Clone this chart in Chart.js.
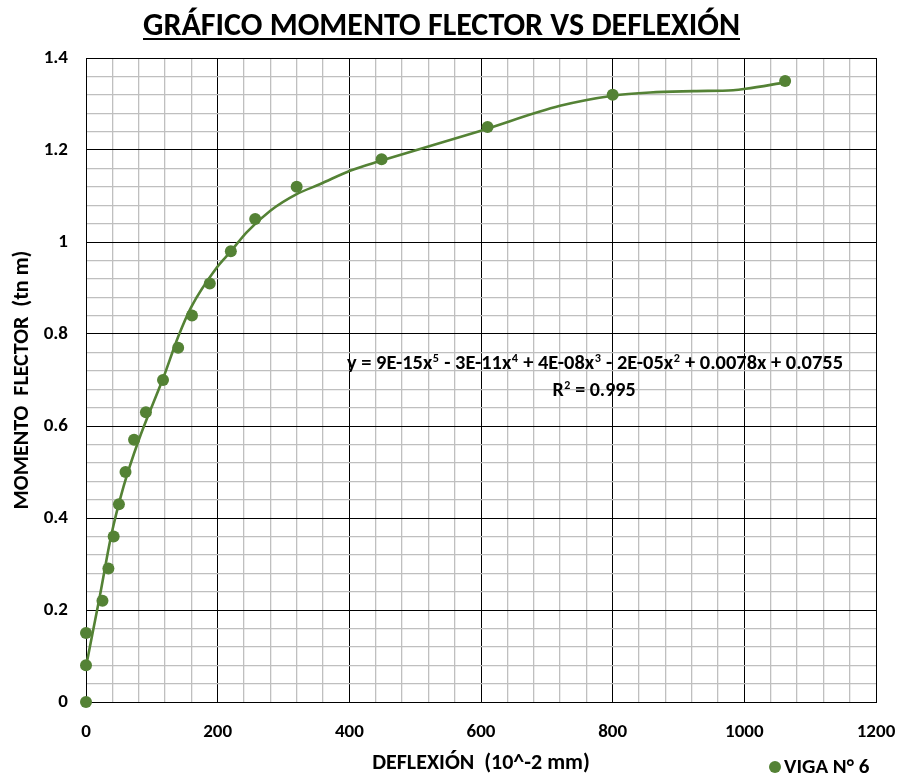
<!DOCTYPE html>
<html><head><meta charset="utf-8">
<script src="https://cdn.jsdelivr.net/npm/chart.js@4"></script>
<style>html,body{margin:0;padding:0;background:#fff}#wrap{width:915px;height:778px}</style>
</head><body><div id="wrap"><canvas id="c" width="915" height="778"></canvas></div>
<script>
// Measured points (VIGA N° 6)
const deflexion = [0, 0, 0, 25, 34, 42, 50, 60, 73, 91, 117, 140, 161, 188, 220, 257, 320, 449, 610, 800, 1062];
const momento   = [0, 0.08, 0.15, 0.22, 0.29, 0.36, 0.43, 0.50, 0.57, 0.63, 0.70, 0.77, 0.84, 0.91, 0.98, 1.05, 1.12, 1.18, 1.25, 1.32, 1.35];
// Polynomial trend line
const trendX = [0, 10, 21, 38, 57, 80, 118, 140, 160, 199, 219, 244, 280, 320, 356, 401, 449, 600, 720, 800, 857, 923, 983, 1002, 1062];
const trendY = [0.077, 0.15, 0.23, 0.36, 0.468, 0.569, 0.707, 0.794, 0.859, 0.945, 0.978, 1.021, 1.068, 1.104, 1.126, 1.155, 1.177, 1.242, 1.296, 1.318, 1.325, 1.328, 1.330, 1.333, 1.347];
const xTickLabels = [0, 200, 400, 600, 800, 1000, 1200];
const yTickLabels = [0, 0.2, 0.4, 0.6, 0.8, 1, 1.2, 1.4];

const titleText = 'GRÁFICO MOMENTO FLECTOR VS DEFLEXIÓN';
const xTitle = 'DEFLEXIÓN  (10^-2 mm)';
const yTitle = 'MOMENTO  FLECTOR  (tn m)';
const seriesName = 'VIGA N° 6';
const eqParts = [['y = 9E-15x', '5'], [' - 3E-11x', '4'], [' + 4E-08x', '3'], [' - 2E-05x', '2'], [' + 0.0078x + 0.0755', '']];
const r2Parts = [['R', '2'], [' = 0.995', '']];

const FONT = 'Carlito, Calibri, Lato, sans-serif';
const GREEN = '#548235';

const isMajor = (v, step) => Math.abs(v / step - Math.round(v / step)) < 1e-6;

function drawParts(ctx, parts, cx, baseline, size, targetW) {
  const supFont = `bold ${Math.round(size * 0.62)}px ${FONT}`;
  let w = 0;
  for (const [t, s] of parts) {
    ctx.font = `bold ${size}px ${FONT}`; w += ctx.measureText(t).width;
    if (s) { ctx.font = supFont; w += ctx.measureText(s).width + 1; }
  }
  const sx = targetW ? targetW / w : 1;
  ctx.save();
  ctx.translate(cx - (w * sx) / 2, baseline);
  ctx.scale(sx, 1);
  let x = 0;
  ctx.fillStyle = '#000';
  ctx.textAlign = 'left'; ctx.textBaseline = 'alphabetic';
  for (const [t, s] of parts) {
    ctx.font = `bold ${size}px ${FONT}`;
    ctx.fillText(t, x, 0); x += ctx.measureText(t).width;
    if (s) { ctx.font = supFont; ctx.fillText(s, x + 0.5, -size * 0.36); x += ctx.measureText(s).width + 1; }
  }
  ctx.restore();
}

const decor = {
  id: 'decor',
  afterDraw(chart) {
    const ctx = chart.ctx;
    // Title
    ctx.save();
    ctx.font = `bold 32px ${FONT}`;
    const tw = ctx.measureText(titleText).width;
    const target = 597, sx = target / tw;
    ctx.translate(441.5 - (tw * sx) / 2, 35);
    ctx.scale(sx, 1);
    ctx.fillStyle = '#000'; ctx.textBaseline = 'alphabetic';
    ctx.fillText(titleText, 0, 0);
    ctx.restore();
    ctx.fillStyle = '#000';
    ctx.fillRect(441.5 - 298.5, 38, 597, 2);
    // Trend equation
    drawParts(ctx, eqParts, 595, 369, 20, 496);
    drawParts(ctx, r2Parts, 594, 396, 20, 0);
    // Legend
    ctx.save();
    ctx.fillStyle = GREEN;
    ctx.beginPath(); ctx.arc(775, 767, 6, 0, Math.PI * 2); ctx.fill();
    ctx.fillStyle = '#000';
    ctx.font = `bold 21px ${FONT}`;
    ctx.textBaseline = 'middle'; ctx.textAlign = 'left';
    ctx.fillText(seriesName, 784, 768);
    ctx.restore();
  }
};

new Chart(document.getElementById('c'), {
  type: 'scatter',
  data: {
    datasets: [
      {
        label: seriesName,
        data: deflexion.map((x, i) => ({ x, y: momento[i] })),
        showLine: false,
        pointRadius: 6,
        pointHoverRadius: 6,
        pointBackgroundColor: GREEN,
        pointBorderColor: GREEN,
        pointBorderWidth: 0,
        clip: false
      },
      {
        label: 'Polinómica (VIGA N° 6)',
        data: trendX.map((x, i) => ({ x, y: trendY[i] })),
        showLine: true,
        pointRadius: 0,
        borderColor: GREEN,
        borderWidth: 2.6,
        cubicInterpolationMode: 'monotone',
        clip: false
      }
    ]
  },
  options: {
    responsive: false,
    animation: false,
    devicePixelRatio: 1,
    layout: { padding: { top: 58, right: 39, bottom: 0, left: 0 } },
    plugins: { legend: { display: false }, title: { display: false }, tooltip: { enabled: false } },
    scales: {
      x: {
        type: 'linear', min: 0, max: 1200,
        afterFit: s => { s.height = 76; },
        afterBuildTicks: s => {
          const t = []; for (let v = 0; v <= 1200; v += 40) t.push({ value: v }); s.ticks = t;
        },
        ticks: {
          autoSkip: false, maxRotation: 0, padding: 19, color: '#000',
          font: { family: FONT, size: 19, weight: 'bold' },
          callback: v => (isMajor(v, 200) && xTickLabels.includes(Math.round(v))) ? String(Math.round(v)) : ''
        },
        grid: {
          drawTicks: false,
          color: c => isMajor(c.tick.value, 200) ? '#000' : '#bfbfbf',
          lineWidth: c => isMajor(c.tick.value, 200) ? 1 : 1.3
        },
        border: { display: true, color: '#000', width: 1 },
        title: { display: true, text: xTitle, color: '#000', font: { family: FONT, size: 22, weight: 'bold' }, padding: { top: 0, bottom: 1 } }
      },
      y: {
        type: 'linear', min: 0, max: 1.4,
        afterFit: s => { s.width = 86; },
        afterBuildTicks: s => {
          const t = []; for (let i = 0; i <= 35; i++) t.push({ value: +(i * 0.04).toFixed(2) }); s.ticks = t;
        },
        ticks: {
          autoSkip: false, padding: 18, color: '#000',
          font: { family: FONT, size: 19, weight: 'bold' },
          callback: v => isMajor(v, 0.2) ? String(yTickLabels[Math.round(v / 0.2)]) : ''
        },
        grid: {
          drawTicks: false,
          color: c => isMajor(c.tick.value, 0.2) ? '#000' : '#bfbfbf',
          lineWidth: c => isMajor(c.tick.value, 0.2) ? 1 : 1.3
        },
        border: { display: true, color: '#000', width: 1 },
        title: { display: true, text: yTitle, color: '#000', font: { family: FONT, size: 22, weight: 'bold' }, padding: { top: 9, bottom: 0 } }
      }
    }
  },
  plugins: [decor]
});
</script>
</body></html>
